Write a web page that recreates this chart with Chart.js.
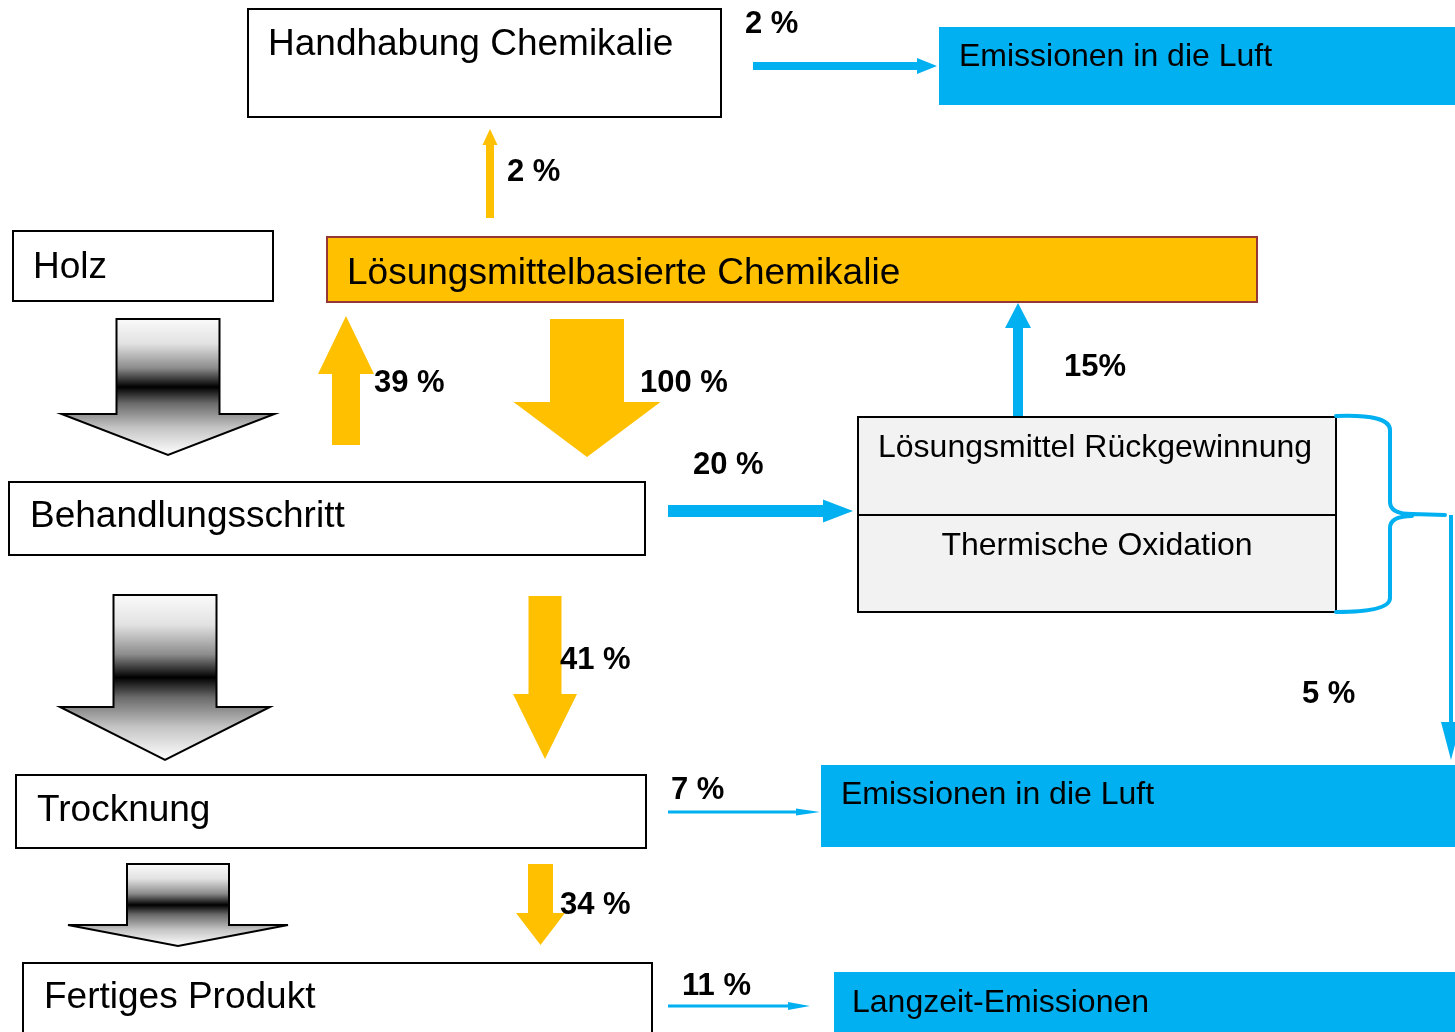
<!DOCTYPE html>
<html lang="de">
<head>
<meta charset="UTF-8">
<title>Stoffstrom Holzschutzmittel</title>
<style>
  html, body { margin: 0; padding: 0; background: #fff; overflow: hidden; }
  canvas { display: block; }
</style>
</head>
<body>
<canvas id="flowChart" width="1455" height="1032"></canvas>
<script src="https://cdn.jsdelivr.net/npm/chart.js"></script>
<script>
// --- data ---
var nodeLabels = [
  'Handhabung Chemikalie',
  'Emissionen in die Luft',
  'Holz',
  'Lösungsmittelbasierte Chemikalie',
  'Behandlungsschritt',
  'Lösungsmittel Rückgewinnung',
  'Thermische Oxidation',
  'Trocknung',
  'Emissionen in die Luft',
  'Fertiges Produkt',
  'Langzeit-Emissionen'
];
// percentages of the flows, same order as flowLayout below
var flowValues = [2, 2, 39, 100, 15, 20, 41, 5, 7, 34, 11];
var flowLabels = ['2 %', '2 %', '39 %', '100 %', '15%', '20 %', '41 %', '5 %', '7 %', '34 %', '11 %'];

// --- layout (page units = pixels of the 1455x1032 canvas) ---
var boxLayout = [
  { x1: 248, y1: 9, x2: 721, y2: 117, fill: '#ffffff', stroke: '#000', tx: 268, ty: 55, size: 37 },
  { x1: 939, y1: 27, x2: 1460, y2: 105, fill: '#00b0f0', stroke: null, tx: 959, ty: 66, size: 32 },
  { x1: 13, y1: 231, x2: 273, y2: 301, fill: '#ffffff', stroke: '#000', tx: 33, ty: 278, size: 37 },
  { x1: 327, y1: 237, x2: 1257, y2: 302, fill: '#ffc000', stroke: '#953735', tx: 347, ty: 284, size: 37 },
  { x1: 9, y1: 482, x2: 645, y2: 555, fill: '#ffffff', stroke: '#000', tx: 30, ty: 527, size: 37 },
  { x1: 858, y1: 417, x2: 1336, y2: 515, fill: '#f2f2f2', stroke: '#000', tx: 1095, ty: 457, size: 32, center: true },
  { x1: 858, y1: 515, x2: 1336, y2: 612, fill: '#f2f2f2', stroke: '#000', tx: 1097, ty: 555, size: 32, center: true },
  { x1: 16, y1: 775, x2: 646, y2: 848, fill: '#ffffff', stroke: '#000', tx: 37, ty: 821, size: 37 },
  { x1: 821, y1: 765, x2: 1460, y2: 847, fill: '#00b0f0', stroke: null, tx: 841, ty: 804, size: 32 },
  { x1: 23, y1: 963, x2: 652, y2: 1045, fill: '#ffffff', stroke: '#000', tx: 44, ty: 1008, size: 37 },
  { x1: 834, y1: 972, x2: 1460, y2: 1045, fill: '#00b0f0', stroke: null, tx: 852, ty: 1012, size: 32 }
];

// block arrows: dir v = vertical (start -> tip), h = horizontal
var flowLayout = [
  { dir: 'h', c: 66, start: 753, headAt: 917, tip: 937, sh: 4, hh: 8, color: '#00b0f0', lx: 745, ly: 33 },
  { dir: 'v', c: 490, start: 218, headAt: 145, tip: 129, sh: 4, hh: 7.5, color: '#ffc000', lx: 507, ly: 181 },
  { dir: 'v', c: 346, start: 445, headAt: 374, tip: 316, sh: 14, hh: 28, color: '#ffc000', lx: 374, ly: 392 },
  { dir: 'v', c: 587, start: 319, headAt: 402, tip: 457, sh: 37, hh: 73.5, color: '#ffc000', lx: 640, ly: 392 },
  { dir: 'v', c: 1018, start: 416, headAt: 328, tip: 303, sh: 5, hh: 13, color: '#00b0f0', lx: 1064, ly: 376 },
  { dir: 'h', c: 511, start: 668, headAt: 823, tip: 853, sh: 6, hh: 11.5, color: '#00b0f0', lx: 693, ly: 474 },
  { dir: 'v', c: 545, start: 596, headAt: 694, tip: 759, sh: 16.5, hh: 32, color: '#ffc000', lx: 560, ly: 669 },
  { dir: 'v', c: 1451, start: 515, headAt: 722, tip: 760, sh: 2, hh: 10, color: '#00b0f0', lx: 1302, ly: 703 },
  { dir: 'h', c: 812, start: 668, headAt: 796, tip: 820, sh: 1.5, hh: 3.5, color: '#00b0f0', lx: 671, ly: 799 },
  { dir: 'v', c: 540.5, start: 864, headAt: 913, tip: 945, sh: 12.5, hh: 24.5, color: '#ffc000', lx: 560, ly: 914 },
  { dir: 'h', c: 1006, start: 668, headAt: 788, tip: 810, sh: 1.5, hh: 4, color: '#00b0f0', lx: 682, ly: 995 }
];

// grey process arrows on the left
var stepArrows = [
  { c: 168, start: 319, headAt: 414, tip: 455, sh: 51.5, hh: 106.5 },
  { c: 165, start: 595, headAt: 707, tip: 760, sh: 51.5, hh: 105 },
  { c: 178, start: 864, headAt: 925, tip: 946, sh: 51, hh: 110 }
];

var FONT = '"Liberation Sans", Arial, Helvetica, sans-serif';

var diagramPlugin = {
  id: 'diagram',
  afterDatasetsDraw: function (chart) {
    var ctx = chart.ctx;
    var xs = chart.scales.x, ys = chart.scales.y;
    function X(v) { return xs.getPixelForValue(v); }
    function Y(v) { return ys.getPixelForValue(v); }

    function poly(pts, fill, stroke, lw) {
      ctx.beginPath();
      pts.forEach(function (p, i) {
        if (i === 0) ctx.moveTo(X(p[0]), Y(p[1])); else ctx.lineTo(X(p[0]), Y(p[1]));
      });
      ctx.closePath();
      ctx.fillStyle = fill;
      ctx.fill();
      if (stroke) { ctx.strokeStyle = stroke; ctx.lineWidth = lw; ctx.lineJoin = 'miter'; ctx.stroke(); }
    }

    function arrowPts(a) {
      if (a.dir === 'h') {
        return [[a.start, a.c - a.sh], [a.headAt, a.c - a.sh], [a.headAt, a.c - a.hh], [a.tip, a.c],
                [a.headAt, a.c + a.hh], [a.headAt, a.c + a.sh], [a.start, a.c + a.sh]];
      }
      return [[a.c - a.sh, a.start], [a.c + a.sh, a.start], [a.c + a.sh, a.headAt], [a.c + a.hh, a.headAt],
              [a.c, a.tip], [a.c - a.hh, a.headAt], [a.c - a.sh, a.headAt]];
    }

    ctx.save();

    // boxes
    boxLayout.forEach(function (b) {
      var x = X(b.x1), y = Y(b.y1), w = X(b.x2) - x, h = Y(b.y2) - y;
      ctx.fillStyle = b.fill;
      ctx.fillRect(x, y, w, h);
      if (b.stroke) {
        ctx.strokeStyle = b.stroke;
        ctx.lineWidth = 2;
        ctx.strokeRect(x, y, w, h);
      }
    });

    // grey gradient process arrows
    stepArrows.forEach(function (a) {
      var g = ctx.createLinearGradient(0, Y(a.start), 0, Y(a.tip));
      g.addColorStop(0, '#fafafa');
      g.addColorStop(0.18, '#e2e2e2');
      g.addColorStop(0.36, '#8c8c8c');
      g.addColorStop(0.5, '#000000');
      g.addColorStop(0.62, '#6a6a6a');
      g.addColorStop(0.8, '#c4c4c4');
      g.addColorStop(1, '#ffffff');
      a.dir = 'v';
      poly(arrowPts(a), g, '#000', 2);
    });

    // flow arrows
    flowLayout.forEach(function (a) { poly(arrowPts(a), a.color, null, 0); });

    // curly brace round the recovery box
    ctx.beginPath();
    ctx.moveTo(X(1336), Y(416));
    ctx.quadraticCurveTo(X(1390), Y(414), X(1390), Y(430));
    ctx.lineTo(X(1390), Y(502));
    ctx.quadraticCurveTo(X(1390), Y(514), X(1412), Y(514));
    ctx.lineTo(X(1445), Y(515));
    ctx.moveTo(X(1412), Y(516));
    ctx.quadraticCurveTo(X(1390), Y(516), X(1390), Y(528));
    ctx.lineTo(X(1390), Y(598));
    ctx.quadraticCurveTo(X(1390), Y(612), X(1336), Y(612));
    ctx.strokeStyle = '#00b0f0';
    ctx.lineWidth = 4;
    ctx.lineCap = 'round';
    ctx.stroke();

    // box texts
    ctx.fillStyle = '#000';
    ctx.textBaseline = 'alphabetic';
    boxLayout.forEach(function (b, i) {
      ctx.font = b.size + 'px ' + FONT;
      ctx.textAlign = b.center ? 'center' : 'left';
      ctx.fillText(nodeLabels[i], X(b.tx), Y(b.ty));
    });

    // flow percentages
    ctx.textAlign = 'left';
    ctx.font = 'bold 31px ' + FONT;
    flowLayout.forEach(function (a, i) {
      ctx.fillText(flowLabels[i], X(a.lx), Y(a.ly));
    });

    ctx.restore();
  }
};

new Chart(document.getElementById('flowChart').getContext('2d'), {
  type: 'scatter',
  data: {
    datasets: [{
      label: 'Anteil',
      data: flowValues.map(function (v, i) { return { x: flowLayout[i].lx, y: flowLayout[i].ly }; }),
      pointRadius: 0,
      showLine: false
    }]
  },
  options: {
    responsive: false,
    animation: false,
    layout: { padding: 0 },
    scales: {
      x: { type: 'linear', min: 0, max: 1455, display: false },
      y: { type: 'linear', min: 0, max: 1032, reverse: true, display: false }
    },
    plugins: {
      legend: { display: false },
      tooltip: { enabled: false },
      title: { display: false }
    }
  },
  plugins: [diagramPlugin]
});
</script>
</body>
</html>
